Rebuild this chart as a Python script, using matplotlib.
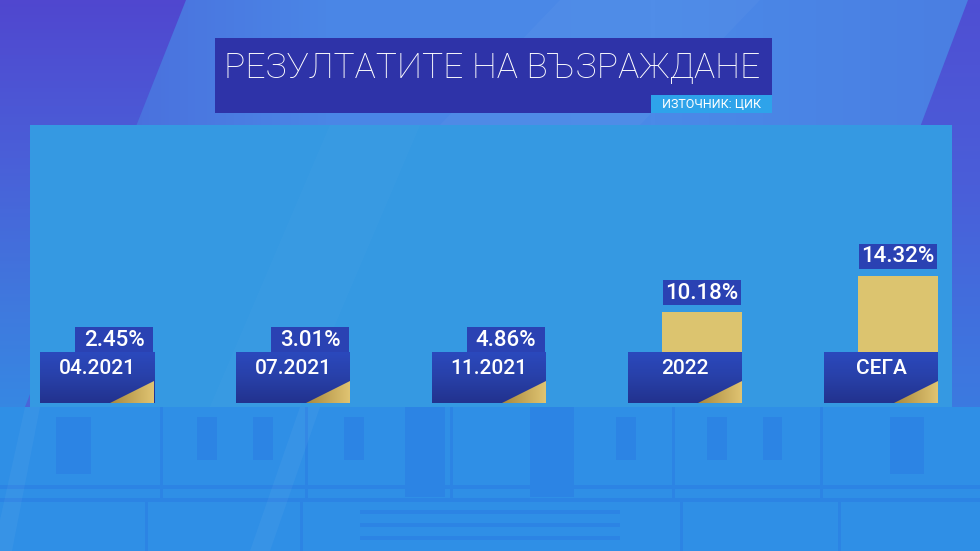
import numpy as np
import matplotlib
matplotlib.use("Agg")
import matplotlib.pyplot as plt
from matplotlib.patches import Rectangle, Polygon
from matplotlib.colors import LinearSegmentedColormap

# ---- data ----
categories = ["04.2021", "07.2021", "11.2021", "2022", "СЕГА"]
values = [2.45, 3.01, 4.86, 10.18, 14.32]
value_labels = ["2.45%", "3.01%", "4.86%", "10.18%", "14.32%"]
title = "РЕЗУЛТАТИТЕ НА ВЪЗРАЖДАНЕ"
source = "ИЗТОЧНИК: ЦИК"

W, H = 980, 551
fig = plt.figure(figsize=(W / 100, H / 100), dpi=100)

# ---- background (pixel coordinates) ----
bg = fig.add_axes([0, 0, 1, 1], zorder=0)
bg.axis("off")

grad = np.linspace(0, 1, 256).reshape(1, -1)
bgcmap = LinearSegmentedColormap.from_list("bg", ["#4b63d8", "#4a86e6", "#4b8ae8", "#4a7ee2"])
bg.imshow(grad, extent=(0, W, H, 0), cmap=bgcmap, aspect="auto", zorder=0)

vgrad = np.linspace(0, 1, 128).reshape(-1, 1)
leftcmap = LinearSegmentedColormap.from_list("left", ["#5047cf", "#4a5fd8", "#3f7ade", "#3190e6"])
im = bg.imshow(vgrad, extent=(0, 200, 470, 0), cmap=leftcmap, aspect="auto", zorder=1)
lp = Polygon([(0, 0), (186, 0), (0, 470)], closed=True, transform=bg.transData)
im.set_clip_path(lp)
rightcmap = LinearSegmentedColormap.from_list("right", ["#4f4fd3", "#4a5ed9", "#3e76df", "#3288e4"])
im2 = bg.imshow(vgrad, extent=(760, W, H, 0), cmap=rightcmap, aspect="auto", zorder=1)
rp = Polygon([(968, 0), (W, 0), (W, H), (760, H)], closed=True, transform=bg.transData)
im2.set_clip_path(rp)
bg.add_patch(Polygon([(560, 0), (760, 0), (640, 125), (440, 125)], closed=True, color="#ffffff", alpha=0.03, lw=0, zorder=1))

# lower building area
bg.add_patch(Rectangle((0, 407), W, H - 407, color="#2f8fe6", lw=0, zorder=2))
win = "#2c84e4"
for (x0, x1, y0, y1) in [(56, 91, 417, 474), (197, 217, 417, 460), (253, 273, 417, 460),
                         (344, 364, 417, 460), (616, 636, 417, 460), (707, 727, 417, 460),
                         (763, 782, 417, 460), (890, 924, 417, 474), (405, 445, 407, 497),
                         (530, 574, 407, 497)]:
    bg.add_patch(Rectangle((x0, y0), x1 - x0, y1 - y0, color=win, lw=0, zorder=3))
for y in (485, 498):
    bg.add_patch(Rectangle((0, y), W, 4, color=win, lw=0, zorder=3))
for x in (160, 305, 450, 672, 820):
    bg.add_patch(Rectangle((x, 407), 3, 92, color=win, lw=0, zorder=3))
for x in (145, 300, 680, 838):
    bg.add_patch(Rectangle((x, 500), 3, 51, color=win, lw=0, zorder=3))
for y in (510, 523, 536):
    bg.add_patch(Rectangle((360, y), 260, 4, color=win, lw=0, zorder=3))
bg.add_patch(Polygon([(0, 520), (25, 407), (40, 407), (12, H), (0, H)], closed=True, color="#ffffff", alpha=0.04, lw=0, zorder=3))
bg.add_patch(Polygon([(250, H), (300, 407), (320, 407), (270, H)], closed=True, color="#ffffff", alpha=0.04, lw=0, zorder=3))

# light panel
bg.add_patch(Rectangle((30, 125), 922, 282, color="#3599e2", lw=0, zorder=4))
bg.add_patch(Polygon([(330, 125), (420, 125), (300, 407), (210, 407)], closed=True, color="#ffffff", alpha=0.02, lw=0, zorder=5))

# title box
bg.add_patch(Rectangle((215, 38), 557, 75, color="#2e33a8", lw=0, zorder=6))
bg.text(492, 68, title, color="white", fontsize=25.5, fontfamily="Roboto", fontweight="light",
        ha="center", va="center", zorder=7)
bg.add_patch(Rectangle((651, 95), 121, 18, color="#2ea3ea", lw=0, zorder=7))
bg.text(711, 104.5, source, color="white", fontsize=9, fontfamily="Roboto",
        ha="center", va="center", zorder=8)
bg.set_xlim(0, W); bg.set_ylim(H, 0)

# ---- data axes ----
px_per = 8.9
y0_px, top_px, left_px, right_px = 403, 125, 30, 952
ax = fig.add_axes([left_px / W, (H - y0_px) / H, (right_px - left_px) / W, (y0_px - top_px) / H], zorder=2)
ax.patch.set_alpha(0)
ax.axis("off")
x = np.arange(len(values))
ax.set_xlim((left_px - 114) / 196, (right_px - 114) / 196)
ax.set_ylim(0, (y0_px - top_px) / px_per)
ax.bar(x, values, width=80 / 196, color="#dcc46f", edgecolor="none")

# ---- overlay (labels) ----
ov = fig.add_axes([0, 0, 1, 1], zorder=3)
ov.patch.set_alpha(0)
ov.axis("off")
boxcmap = LinearSegmentedColormap.from_list("box", ["#2b49bd", "#2840a8", "#22328e"])
goldcmap = LinearSegmentedColormap.from_list("gold", ["#e0c472", "#a8883c"])
for i, v in enumerate(values):
    dx, dy = ax.transData.transform((i, v))
    px, py = dx, H - dy
    bl, br, bt, bb = px - 74, px + 40, 352, 403
    ov.imshow(vgrad, extent=(bl, br, bb, bt), cmap=boxcmap, aspect="auto", zorder=2)
    gi = ov.imshow(grad, extent=(br - 44, br, bb, bb - 22), cmap=goldcmap.reversed(), aspect="auto", zorder=3)
    tri = Polygon([(br - 44, bb), (br, bb - 22), (br, bb)], closed=True, transform=ov.transData)
    gi.set_clip_path(tri)
    ov.text((bl + br) / 2, 369, categories[i], color="white", fontsize=15, fontfamily="Roboto",
            fontweight="medium", ha="center", va="center", zorder=4)
    vb = min(py - 7, bt)
    ov.add_patch(Rectangle((px - 39, vb - 25), 78, 25, color="#2a42b3", lw=0, zorder=2))
    ov.text(px, vb - 12, value_labels[i], color="white", fontsize=16, fontfamily="Roboto",
            fontweight="medium", ha="center", va="center", zorder=4)
ov.set_xlim(0, W); ov.set_ylim(H, 0)

fig.savefig("out.png", dpi=100)
